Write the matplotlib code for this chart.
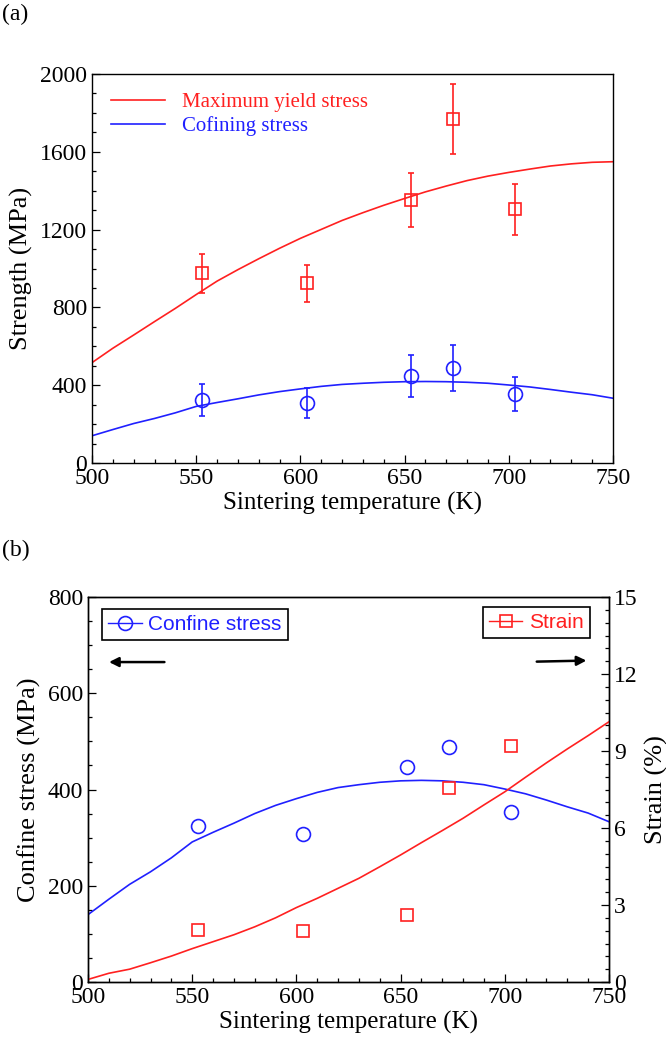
import numpy as np
import matplotlib
matplotlib.use("Agg")
import matplotlib.pyplot as plt
from matplotlib.ticker import MultipleLocator

# measured points
temp = [553, 603, 653, 673, 703]
yield_stress = [975, 924, 1352, 1769, 1304]
yield_err = [100, 95, 138, 180, 133]
confine_stress = [324, 307, 447, 488, 353]
confine_err = [80, 78, 110, 120, 88]
strain = [2.03, 1.99, 2.61, 7.57, 9.2]

# fitted curves, every 10 K
fit_temp = [500, 510, 520, 530, 540, 550, 560, 570, 580, 590, 600, 610, 620,
            630, 640, 650, 660, 670, 680, 690, 700, 710, 720, 730, 740, 750]
fit_yield = [516, 590, 658, 727, 795, 866, 935, 994, 1050, 1104, 1155, 1201, 1247,
             1287, 1325, 1360, 1394, 1424, 1452, 1475, 1494, 1511, 1527, 1538, 1546, 1549]
fit_confine = [140, 172, 203, 229, 258, 291, 311, 330, 350, 367, 381, 394, 404,
               410, 415, 418, 419, 418, 415, 410, 401, 391, 378, 364, 351, 333]
fit_strain = [0.10, 0.34, 0.50, 0.75, 1.01, 1.30, 1.57, 1.84, 2.15, 2.50, 2.90, 3.26, 3.65,
              4.04, 4.49, 4.95, 5.43, 5.90, 6.38, 6.90, 7.41, 7.98, 8.54, 9.08, 9.60, 10.14]

RED = "#ff2020"
BLUE = "#2020ff"
serif = ["Liberation Serif", "DejaVu Serif"]
sans = ["Liberation Sans", "DejaVu Sans"]
plt.rcParams["font.family"] = serif
plt.rcParams["mathtext.fontset"] = "stix"

W, H = 666, 1044
fig = plt.figure(figsize=(W / 100, H / 100), dpi=100)


def px_axes(left, top, right, bottom):
    return fig.add_axes([left / W, 1 - bottom / H, (right - left) / W, (bottom - top) / H])


def style_ticks(ax):
    ax.tick_params(which="both", direction="in", labelsize=17, width=0.9)
    ax.tick_params(which="major", length=6)
    ax.tick_params(which="minor", length=3)
    for s in ax.spines.values():
        s.set_linewidth(1.0)


# ===== panel (a) =====
ax1 = px_axes(92, 74, 613, 463)
ax1.plot(fit_temp, fit_yield, color=RED, lw=1.2, label="Maximum yield stress")
ax1.plot(fit_temp, fit_confine, color=BLUE, lw=1.2, label="Cofining stress")
ax1.errorbar(temp, yield_stress, yerr=yield_err, fmt="s", mfc="none", mec=RED,
             ecolor=RED, ms=9, mew=1.2, elinewidth=1.2, capsize=2.5, capthick=1.2)
ax1.errorbar(temp, confine_stress, yerr=confine_err, fmt="o", mfc="none", mec=BLUE,
             ecolor=BLUE, ms=10, mew=1.2, elinewidth=1.2, capsize=2.5, capthick=1.2)
ax1.set_xlim(500, 750)
ax1.set_ylim(0, 2000)
ax1.xaxis.set_major_locator(MultipleLocator(50))
ax1.xaxis.set_minor_locator(MultipleLocator(10))
ax1.yaxis.set_major_locator(MultipleLocator(400))
ax1.yaxis.set_minor_locator(MultipleLocator(100))
style_ticks(ax1)
ax1.set_xlabel("Sintering temperature (K)", fontsize=18, labelpad=2)
ax1.set_ylabel("Strength (MPa)", fontsize=19, labelpad=5)
leg = ax1.legend(loc="upper left", frameon=False, fontsize=15, handlelength=2.6,
                 handletextpad=0.8, borderaxespad=0.5, labelspacing=0.2)
for t, c in zip(leg.get_texts(), [RED, BLUE]):
    t.set_color(c)
fig.text(2 / W, 1 - 20 / H, "(a)", fontsize=17, va="baseline")

# ===== panel (b) =====
ax2 = px_axes(88, 597, 609, 982)
ax3 = ax2.twinx()
ax2.plot(fit_temp, fit_confine, color=BLUE, lw=1.2)
ax2.plot(temp, confine_stress, "o", mfc="none", mec=BLUE, ms=10, mew=1.2)
ax3.plot(fit_temp, fit_strain, color=RED, lw=1.2)
ax3.plot(temp, strain, "s", mfc="none", mec=RED, ms=9, mew=1.2)
ax2.set_xlim(500, 750)
ax2.set_ylim(0, 800)
ax3.set_ylim(0, 15)
ax2.xaxis.set_major_locator(MultipleLocator(50))
ax2.xaxis.set_minor_locator(MultipleLocator(10))
ax2.yaxis.set_major_locator(MultipleLocator(200))
ax2.yaxis.set_minor_locator(MultipleLocator(50))
ax3.yaxis.set_major_locator(MultipleLocator(3))
ax3.yaxis.set_minor_locator(MultipleLocator(0.5))
style_ticks(ax2)
style_ticks(ax3)
ax2.set_xlabel("Sintering temperature (K)", fontsize=18, labelpad=2)
ax2.set_ylabel("Confine stress (MPa)", fontsize=19, labelpad=5)
ax3.set_ylabel("Strain (%)", fontsize=19, labelpad=5)

h1, = ax2.plot([], [], "-o", color=BLUE, mfc="none", ms=10, mew=1.2, lw=1.0)
h2, = ax3.plot([], [], "-s", color=RED, mfc="none", ms=9, mew=1.2, lw=1.0)
lg1 = ax2.legend([h1], ["Confine stress"], loc="upper left", bbox_to_anchor=(0.027, 0.97),
                 fancybox=False, edgecolor="black", framealpha=1,
                 prop={"family": sans, "size": 15}, handlelength=1.6, handletextpad=0.3,
                 borderpad=0.3, borderaxespad=0)
lg1.get_frame().set_linewidth(1.2)
lg1.get_texts()[0].set_color(BLUE)
lg2 = ax3.legend([h2], ["Strain"], loc="upper right", bbox_to_anchor=(0.963, 0.975),
                 fancybox=False, edgecolor="black", framealpha=1,
                 prop={"family": sans, "size": 15}, handlelength=1.6, handletextpad=0.3,
                 borderpad=0.3, borderaxespad=0)
lg2.get_frame().set_linewidth(1.2)
lg2.get_texts()[0].set_color(RED)

arrow = dict(arrowstyle="-|>", color="black", lw=1.8, mutation_scale=14)
ax2.annotate("", xy=(0.035, 0.831), xytext=(0.152, 0.831), xycoords="axes fraction",
             arrowprops=arrow)
ax2.annotate("", xy=(0.962, 0.835), xytext=(0.856, 0.832), xycoords="axes fraction",
             arrowprops=arrow)
fig.text(2 / W, 1 - 556 / H, "(b)", fontsize=17, va="baseline")

fig.savefig("out.png", dpi=100)
